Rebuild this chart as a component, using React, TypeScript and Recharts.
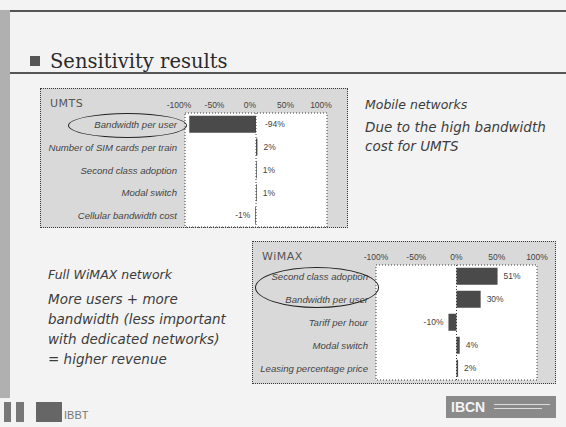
import React from "react";
import {
  BarChart,
  Bar,
  XAxis,
  YAxis,
  ReferenceLine,
  ReferenceArea,
  LabelList,
} from "recharts";

const umtsFactors = [
  "Bandwidth per user",
  "Number of SIM cards per train",
  "Second class adoption",
  "Modal switch",
  "Cellular bandwidth cost",
];
const umtsImpact = [-94, 2, 1, 1, -1];

const wimaxFactors = [
  "Second class adoption",
  "Bandwidth per user",
  "Tariff per hour",
  "Modal switch",
  "Leasing percentage price",
];
const wimaxImpact = [51, 30, -10, 4, 2];

const pctTicks = [-100, -50, 0, 50, 100];

const INK = "#3a3a3a";
const SANS = "'Liberation Sans', Arial, sans-serif";
const TEXT_FONT = "'DejaVu Sans', sans-serif";

type TornadoProps = {
  title: string;
  factors: string[];
  impact: number[];
  left: number;
  top: number;
  width: number;
  height: number;
  labelWidth: number;
  marginRight: number;
  axisHeight: number;
  marginBottom: number;
  tickDx?: number;
};

// single-line italic category label (default Text would wrap long names)
const FactorTick = (props: any) => {
  const { x, y, payload } = props;
  return (
    <text
      x={x}
      y={y}
      dy={3.5}
      textAnchor="end"
      fontSize={9.6}
      fontStyle="italic"
      fontFamily={SANS}
      fill="#444"
    >
      {payload.value}
    </text>
  );
};

function Tornado({
  title,
  factors,
  impact,
  left,
  top,
  width,
  height,
  labelWidth,
  marginRight,
  axisHeight,
  marginBottom,
  tickDx = 0,
}: TornadoProps) {
  const data = factors.map((factor, i) => ({ factor, impact: impact[i] }));
  const plotLeft = labelWidth;

  const renderValue = (props: any) => {
    const vb = props.viewBox ?? props;
    const x = Number(vb.x);
    const w = Number(vb.width);
    const y = Number(vb.y);
    const h = Number(vb.height);
    const v = Number(props.value);
    const lo = Math.min(x, x + w);
    const hi = Math.max(x, x + w);
    let tx = hi + 6;
    let anchor: "start" | "end" = "start";
    if (v < 0) {
      if (lo - plotLeft > 22) {
        tx = lo - 5;
        anchor = "end";
      } else {
        tx = hi + 9;
      }
    }
    return (
      <text
        x={tx}
        y={y + h / 2}
        textAnchor={anchor}
        dominantBaseline="central"
        fontSize={8.5}
        fontFamily={SANS}
        fill="#444"
      >
        {`${v}%`}
      </text>
    );
  };

  return (
    <div
      style={{
        position: "absolute",
        left,
        top,
        width,
        height,
        boxSizing: "border-box",
        border: `1px dotted ${INK}`,
        background: "#d9d9d9",
      }}
    >
      <div
        style={{
          position: "absolute",
          left: 9,
          top: 8,
          fontFamily: TEXT_FONT,
          fontSize: 11,
          color: "#555",
          letterSpacing: 0.5,
        }}
      >
        {title}
      </div>
      <div style={{ position: "absolute", left: -1, top: -1 }}>
        <BarChart
          width={width}
          height={height}
          data={data}
          layout="vertical"
          barCategoryGap="12%"
          margin={{ top: 0, right: marginRight, bottom: marginBottom, left: 0 }}
        >
          <ReferenceArea
            x1={-100}
            x2={100}
            fill="#ffffff"
            fillOpacity={1}
            stroke={INK}
            strokeDasharray="1 2"
            ifOverflow="visible"
          />
          <XAxis
            type="number"
            orientation="top"
            domain={[-100, 100]}
            ticks={pctTicks}
            tickFormatter={(v) => `${v}%`}
            axisLine={false}
            tickLine={false}
            tickSize={0}
            tickMargin={5}
            height={axisHeight}
            tick={{ fontSize: 8.5, fill: "#444", fontFamily: SANS, dx: tickDx }}
          />
          <YAxis
            type="category"
            dataKey="factor"
            width={labelWidth}
            axisLine={false}
            tickLine={false}
            tickSize={0}
            tickMargin={8}
            interval={0}
            tick={FactorTick}
          />
          <ReferenceLine x={0} stroke={INK} strokeDasharray="1 2" />
          <Bar dataKey="impact" fill="#4a4a4a" isAnimationActive={false}>
            <LabelList dataKey="impact" content={renderValue} />
          </Bar>
        </BarChart>
      </div>
    </div>
  );
}

const ring = (left: number, top: number, width: number, height: number) => (
  <div
    style={{
      position: "absolute",
      left,
      top,
      width,
      height,
      boxSizing: "border-box",
      border: "1.5px solid #222",
      borderRadius: "50%",
    }}
  />
);

const textBase: React.CSSProperties = {
  position: "absolute",
  fontFamily: TEXT_FONT,
  fontStyle: "italic",
  fontSize: 13.5,
  color: "#3c3c3c",
  whiteSpace: "nowrap",
};

export default function App() {
  return (
    <div
      style={{
        position: "fixed",
        left: 0,
        top: 0,
        width: 566,
        height: 427,
        overflow: "hidden",
        background: "#f3f3f3",
      }}
    >
      {/* left band and title rules */}
      <div style={{ position: "absolute", left: 0, top: 10, width: 10, height: 388, background: "#b0b0b0" }} />
      <div style={{ position: "absolute", left: 10, top: 10, width: 556, height: 2, background: "#555" }} />
      <div style={{ position: "absolute", left: 10, top: 72, width: 556, height: 2, background: "#555" }} />
      <div style={{ position: "absolute", left: 30, top: 56, width: 10, height: 10, background: "#555" }} />
      <div
        style={{
          position: "absolute",
          left: 50,
          top: 49,
          fontFamily: "'DejaVu Serif', serif",
          fontSize: 19.5,
          lineHeight: "26px",
          color: "#2a2a2a",
        }}
      >
        Sensitivity results
      </div>

      <Tornado
        title="UMTS"
        factors={umtsFactors}
        impact={umtsImpact}
        left={40}
        top={88}
        width={308}
        height={140}
        labelWidth={145}
        marginRight={21}
        axisHeight={25}
        marginBottom={1}
        tickDx={-6}
      />
      {ring(68, 113, 119, 25)}

      <div style={{ ...textBase, fontSize: 12.5, left: 365, top: 95, lineHeight: "20px" }}>
        Mobile networks
      </div>
      <div style={{ ...textBase, left: 365, top: 118, lineHeight: "19px" }}>
        Due to the high bandwidth
        <br />
        cost for UMTS
      </div>

      <Tornado
        title="WiMAX"
        factors={wimaxFactors}
        impact={wimaxImpact}
        left={252}
        top={241}
        width={304}
        height={143}
        labelWidth={124}
        marginRight={19}
        axisHeight={24}
        marginBottom={4}
      />
      {ring(255, 267, 124, 41)}

      <div style={{ ...textBase, fontSize: 12.5, left: 48, top: 265, lineHeight: "20px" }}>
        Full WiMAX network
      </div>
      <div style={{ ...textBase, left: 48, top: 289, lineHeight: "20px" }}>
        More users + more
        <br />
        bandwidth (less important
        <br />
        with dedicated networks)
        <br />= higher revenue
      </div>

      {/* footer logos */}
      <div style={{ position: "absolute", left: 4, top: 402, width: 7, height: 20, background: "#777" }} />
      <div style={{ position: "absolute", left: 16, top: 402, width: 8, height: 20, background: "#777" }} />
      <div style={{ position: "absolute", left: 36, top: 402, width: 26, height: 20, background: "#666" }} />
      <div
        style={{
          position: "absolute",
          left: 64,
          top: 408,
          fontFamily: SANS,
          fontSize: 11,
          lineHeight: "14px",
          color: "#777",
        }}
      >
        IBBT
      </div>
      <div
        style={{
          position: "absolute",
          left: 446,
          top: 396,
          width: 110,
          height: 22,
          background: "#8a8a8a",
        }}
      >
        <div
          style={{
            position: "absolute",
            left: 5,
            top: 3,
            fontFamily: SANS,
            fontWeight: 700,
            fontSize: 14,
            lineHeight: "16px",
            color: "#f4f4f4",
          }}
        >
          IBCN
        </div>
        <div style={{ position: "absolute", left: 48, top: 8, width: 56, height: 1, background: "#ddd" }} />
        <div style={{ position: "absolute", left: 48, top: 12, width: 48, height: 1, background: "#ddd" }} />
      </div>
    </div>
  );
}
